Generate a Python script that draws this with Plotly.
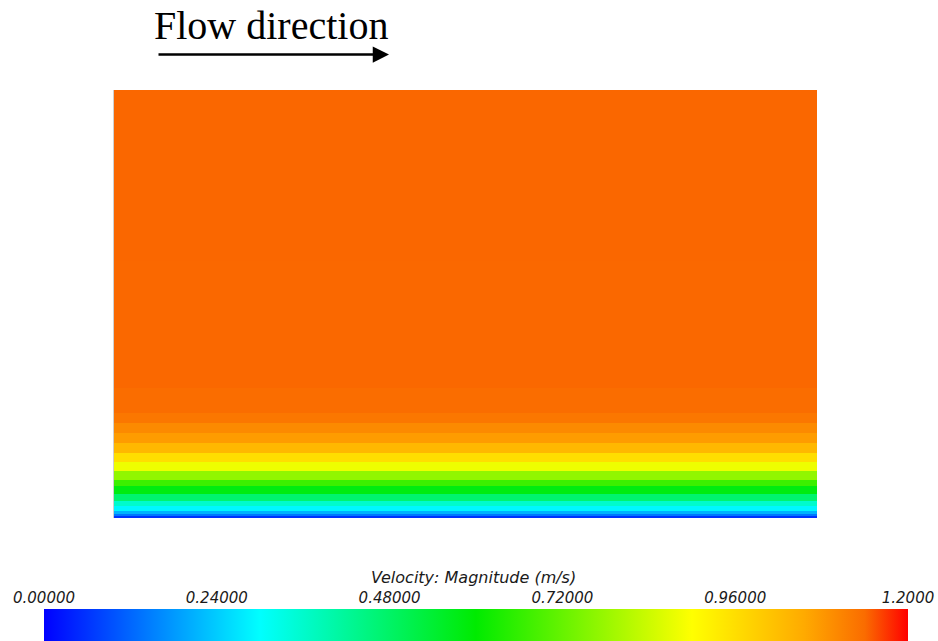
import plotly.graph_objects as go

# Wall-normal velocity profile (cell bands), heights in mm from the wall
band_edges_mm = [0, 2.3, 4.7, 8.2, 14.0, 19.9, 28.0, 37.4, 44.4, 54.9, 65.4,
                 75.9, 87.6, 99.3, 111.0, 122.7, 151.9, 300.0, 500.0]
velocity_ms = [0.06, 0.14, 0.21, 0.29, 0.36, 0.47, 0.58, 0.67, 0.77, 0.88,
               0.96, 1.03, 1.075, 1.10, 1.125, 1.138, 1.142, 1.143]
length_edges_m = [0.0, 0.82]

tick_values = [0.0, 0.24, 0.48, 0.72, 0.96, 1.2]
tick_labels = ["0.00000", "0.24000", "0.48000", "0.72000", "0.96000", "1.2000"]

colorscale = [
    [0.0, "rgb(0,0,255)"],
    [0.25, "rgb(0,255,255)"],
    [0.5, "rgb(0,235,0)"],
    [0.75, "rgb(255,255,0)"],
    [0.88, "rgb(255,170,0)"],
    [0.95, "rgb(250,108,0)"],
    [1.0, "rgb(255,0,0)"],
]

W, H = 938, 641
z = [[v] for v in velocity_ms]

fig = go.Figure()
fig.add_trace(go.Heatmap(
    x=length_edges_m,
    y=band_edges_mm,
    z=z,
    zmin=0, zmax=1.2,
    colorscale=colorscale,
    zsmooth=False,
    hoverinfo="skip",
    xaxis="x", yaxis="y",
    colorbar=dict(
        orientation="h",
        x=476 / W, xanchor="center",
        y=0, yanchor="bottom",
        lenmode="pixels", len=864,
        thickness=32,
        xpad=0, ypad=0,
        outlinewidth=0,
        ticks="",
        showticklabels=False,
    ),
))

# invisible trace carrying the colour-bar label axis
fig.add_trace(go.Scatter(
    x=tick_values, y=[0.5] * len(tick_values), mode="markers",
    marker=dict(opacity=0), hoverinfo="skip", showlegend=False,
    xaxis="x2", yaxis="y2",
))

tick_font = dict(family="DejaVu Sans", size=15, color="#1a1a1a", style="italic")

fig.update_layout(
    width=W, height=H,
    margin=dict(l=0, r=0, t=0, b=0, autoexpand=False),
    paper_bgcolor="white", plot_bgcolor="white",
    xaxis=dict(visible=False, range=[0, 0.82], domain=[114 / W, 817 / W]),
    yaxis=dict(showticklabels=False, showgrid=False, zeroline=False, ticks="",
               range=[0, 500], domain=[(H - 518) / H, (H - 90) / H],
               showline=True, linecolor="#cfcfcf", linewidth=1),
    xaxis2=dict(domain=[44 / W, 908 / W], range=[0, 1.2], anchor="y2", side="top",
                tickvals=tick_values, ticktext=tick_labels, ticks="",
                showgrid=False, zeroline=False, showline=False, automargin=False,
                tickfont=tick_font, ticklabelstandoff=2),
    yaxis2=dict(domain=[0, 32 / H], range=[0, 1], visible=False),
    showlegend=False,
)

fig.add_annotation(
    text="Velocity: Magnitude (m/s)", xref="paper", yref="paper",
    x=473 / W, y=(H - 577) / H, xanchor="center", yanchor="middle",
    showarrow=False,
    font=dict(family="DejaVu Sans", size=16, color="#1a1a1a", style="italic"),
)

fig.add_annotation(
    text="Flow direction", xref="paper", yref="paper",
    x=271 / W, y=(H - 25) / H,
    xanchor="center", yanchor="middle", showarrow=False,
    font=dict(family="Liberation Serif", size=40, color="black"),
)
fig.add_annotation(
    text="", xref="paper", yref="paper",
    x=389 / W, y=(H - 54.5) / H,
    ax=-232, ay=0, showarrow=True,
    arrowhead=2, arrowsize=1.3, arrowwidth=2.5, arrowcolor="black",
)

fig.write_html("out.html")
